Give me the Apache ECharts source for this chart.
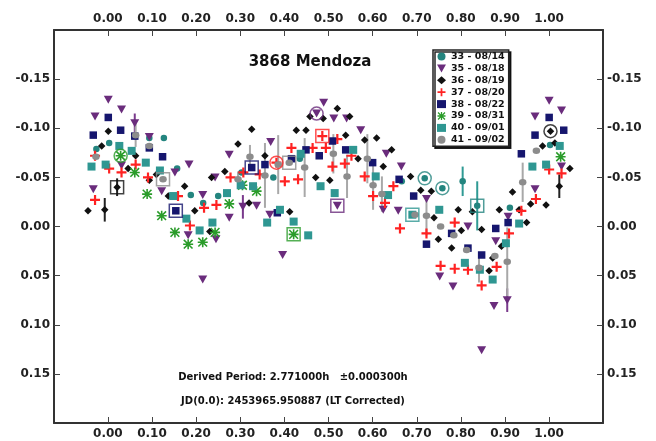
<!DOCTYPE html>
<html><head><meta charset="utf-8">
<script src="https://cdn.jsdelivr.net/npm/echarts@6/dist/echarts.min.js"></script>
<style>html,body{margin:0;padding:0;background:#fff}#c{width:656px;height:441px}</style>
</head><body><div id="c"></div>
<script>
// ---------------- data ----------------
const titleText = '3868 Mendoza';
const periodText = 'Derived Period: 2.771000h   \u00b10.000300h';
const jdText = 'JD(0.0): 2453965.950887 (LT Corrected)';
const sessionNames = ['33 - 08/14','35 - 08/18','36 - 08/19','37 - 08/20','38 - 08/22','39 - 08/31','40 - 09/01','41 - 09/02'];
const xTicks = [0,0.1,0.2,0.3,0.4,0.5,0.6,0.7,0.8,0.9,1.0];
const yTicks = [-0.15,-0.10,-0.05,0,0.05,0.10,0.15];

// [phase, mag, optional error]
const s33 = [[-0.026,-0.079],[0.003,-0.085],[0.094,-0.090],[0.127,-0.090],[0.157,-0.059],[0.188,-0.032],[0.216,-0.024],[0.250,-0.031],[0.303,-0.055],[0.375,-0.050],[0.435,-0.069],[0.666,-0.046],[0.718,-0.049],[0.758,-0.039],[0.804,-0.046,0.015],[0.837,-0.021,0.025],[0.911,-0.019],[1.002,-0.083]];
const s35 = [[0.001,-0.129],[-0.029,-0.112],[0.031,-0.119],[0.061,-0.105,0.01],[0.094,-0.091],[-0.033,-0.038],[0.031,-0.062],[0.122,-0.036],[0.184,-0.063],[0.152,-0.055],[0.215,-0.032],[0.182,0.009],[0.245,0.013],[0.215,0.054],[0.275,-0.073],[0.275,-0.009],[0.306,-0.020,0.012],[0.243,-0.050],[0.337,-0.021],[0.367,-0.012],[0.396,0.029],[0.369,-0.086],[0.489,-0.126],[0.473,-0.115],[0.512,-0.110],[0.541,-0.110],[0.573,-0.098],[0.631,-0.074],[0.665,-0.061],[0.520,-0.021],[0.624,-0.017],[0.658,-0.016],[0.722,-0.028],[0.752,0.051],[0.782,0.061],[0.816,0.000],[0.847,0.126],[0.875,0.081],[0.879,0.015],[0.905,0.075,0.012],[0.907,-0.010],[0.968,-0.038],[0.968,-0.112],[1.000,-0.128],[1.028,-0.118],[1.028,-0.061]];
const s36 = [[-0.045,-0.016],[-0.007,-0.017,0.012],[-0.014,-0.082],[0.001,-0.097],[0.021,-0.040,0.009],[0.063,-0.072],[0.046,-0.059],[0.094,-0.047],[0.110,-0.053],[0.174,-0.041],[0.137,-0.031],[0.197,-0.016],[0.231,0.005],[0.235,-0.050],[0.265,-0.056],[0.295,-0.084],[0.326,-0.099],[0.320,-0.024],[0.427,-0.098],[0.449,-0.098],[0.458,-0.112],[0.520,-0.120],[0.548,-0.112],[0.488,-0.110],[0.539,-0.093],[0.582,-0.088],[0.609,-0.090],[0.643,-0.078],[0.356,-0.072],[0.567,-0.069],[0.624,-0.061],[0.471,-0.050],[0.503,-0.047],[0.412,-0.015],[0.686,-0.051],[0.709,-0.037],[0.733,-0.036],[0.739,-0.009],[0.794,-0.017],[0.826,-0.015],[0.801,0.004],[0.779,0.022],[0.847,0.003],[0.864,0.045],[0.887,-0.017],[0.892,0.020],[0.917,-0.035],[0.932,-0.017],[0.949,-0.004],[0.958,-0.023],[0.993,-0.022],[1.023,-0.041,0.012],[1.047,-0.059],[0.985,-0.082],[1.013,-0.085],[1.003,-0.097],[0.749,0.013],[0.872,0.032]];
const s37 = [[-0.029,-0.072],[-0.029,-0.027],[0.003,-0.059],[0.031,-0.055],[0.063,-0.063],[0.091,-0.050],[0.186,-0.001],[0.218,-0.019],[0.246,-0.022],[0.278,-0.050],[0.307,-0.055],[0.159,-0.031],[0.344,-0.053],[0.382,-0.065],[0.401,-0.046],[0.431,-0.048],[0.416,-0.080],[0.464,-0.080],[0.486,-0.092],[0.494,-0.080],[0.520,-0.089],[0.509,-0.061],[0.537,-0.064],[0.552,-0.072],[0.582,-0.051],[0.601,-0.031],[0.628,-0.024],[0.647,-0.041],[0.662,0.002],[0.722,0.007],[0.786,-0.004],[0.754,0.040],[0.786,0.043],[0.816,0.044],[0.847,0.060],[0.881,0.041],[0.909,0.007],[0.937,-0.016],[0.970,-0.028],[1.000,-0.058],[1.028,-0.054]];
const s38 = [[-0.033,-0.093],[0.001,-0.111],[0.029,-0.098],[0.061,-0.092],[0.094,-0.080],[0.124,-0.071],[0.154,-0.016],[0.326,-0.060],[0.356,-0.063],[0.416,-0.069],[0.384,-0.014],[0.449,-0.078],[0.479,-0.072],[0.509,-0.087],[0.539,-0.078],[0.600,-0.065],[0.660,-0.048],[0.693,-0.031],[0.722,0.018],[0.779,0.007],[0.816,0.022],[0.847,0.029],[0.879,0.002],[0.907,-0.004],[0.937,-0.074],[0.968,-0.093],[1.000,-0.111],[1.033,-0.098]];
const s39 = [[0.029,-0.072],[0.061,-0.055],[0.089,-0.033],[0.122,-0.011],[0.152,0.006],[0.182,0.018],[0.215,0.016],[0.243,0.006],[0.275,-0.023],[0.305,-0.042],[0.337,-0.036],[0.421,0.008],[1.026,-0.071]];
const s40 = [[-0.037,-0.061],[-0.005,-0.063],[0.026,-0.082],[0.054,-0.077],[0.086,-0.065],[0.118,-0.057],[0.148,-0.031],[0.178,-0.008],[0.208,0.004],[0.237,-0.004],[0.270,-0.034],[0.301,-0.042],[0.329,-0.041],[0.361,-0.004],[0.390,-0.017],[0.421,-0.005],[0.454,0.009],[0.437,-0.074],[0.482,-0.041],[0.514,-0.034],[0.556,-0.078],[0.607,-0.051],[0.635,-0.032],[0.690,-0.012],[0.751,-0.017],[0.809,0.037],[0.843,0.044],[0.872,0.054],[0.902,0.017],[0.932,-0.003],[0.962,-0.061],[0.993,-0.063],[1.024,-0.082]];
const s41 = [[-0.027,-0.071],[0.063,-0.093,0.012],[0.094,-0.082],[0.125,-0.048],[0.295,-0.048,0.008],[0.322,-0.071,0.012],[0.356,-0.052,0.033],[0.386,-0.063,0.03],[0.411,-0.065],[0.446,-0.060,0.03],[0.511,-0.074,0.02],[0.542,-0.051,0.022],[0.588,-0.069,0.025],[0.601,-0.042,0.025],[0.621,-0.033,0.018],[0.696,-0.012],[0.722,-0.011,0.02],[0.754,0.000],[0.784,0.009],[0.813,0.024],[0.841,0.042,0.015],[0.877,0.030],[0.905,0.036,0.035],[0.940,-0.045,0.02],[0.971,-0.077]];
const sessionData = [s33,s35,s36,s37,s38,s39,s40,s41];

// first-point markers: [phase, mag, session index]
const boxMarks = [[0.021,-0.040,2],[0.154,-0.016,4],[0.125,-0.048,7],[0.411,-0.065,7],[0.421,0.008,5],[0.486,-0.092,3],[0.520,-0.021,1],[0.690,-0.012,6],[0.837,-0.021,0],[0.326,-0.060,4]];
const ringMarks = [[0.029,-0.072,5],[0.382,-0.065,3],[0.473,-0.115,1],[0.718,-0.049,0],[0.758,-0.039,0],[1.003,-0.097,2]];

// ---------------- styles ----------------
const FONT = 'DejaVu Sans';
const PLUS = 'path://M3.9,0h2.2v3.9h3.9v2.2h-3.9v3.9h-2.2v-3.9h-3.9v-2.2h3.9z';
const STAR = 'path://M4.2,0h1.6v10h-1.6z M0,4.2h10v1.6h-10z M1.2,0.1L9.9,8.8L8.8,9.9L0.1,1.2z M8.8,0.1L9.9,1.2L1.2,9.9L0.1,8.8z';
const DOWN = 'path://M0,0L10,0L5,9z';
const styles = [
  {symbol:'circle', size:6.5, color:'#24857f', err:'#2f9a94'},
  {symbol:DOWN, size:[9,8], color:'#6a2c7c', err:'#7a3a8c'},
  {symbol:'diamond', size:7.5, color:'#111111', err:'#222222'},
  {symbol:PLUS, size:10, color:'#ff2222', err:'#aaaaaa'},
  {symbol:'rect', size:7.5, color:'#16166e', err:'#aaaaaa'},
  {symbol:STAR, size:10, color:'#2a9c2a', err:'#aaaaaa'},
  {symbol:'rect', size:8, color:'#2f9792', err:'#aaaaaa'},
  {symbol:'circle', size:[7.5,6.5], color:'#8c8c8c', err:'#a8a8a8'}
];

const chart = echarts.init(document.getElementById('c'), null, {renderer:'canvas'});

function errSeries(data, color){
  return {
    type:'custom', xAxisIndex:0, yAxisIndex:0, silent:true, z:1,
    data: data.filter(d => d.length > 2),
    encode:{x:0, y:1},
    renderItem:(params, api) => {
      const x = api.value(0), y = api.value(1), e = api.value(2);
      const p1 = api.coord([x, y - e]), p2 = api.coord([x, y + e]);
      return {type:'line', shape:{x1:p1[0], y1:p1[1], x2:p2[0], y2:p2[1]}, style:{stroke:color, lineWidth:2}};
    }
  };
}

const series = [];
sessionData.forEach((d, i) => series.push(errSeries(d, styles[i].err)));
sessionData.forEach((d, i) => {
  const st = styles[i];
  series.push({
    name: sessionNames[i], type:'scatter', xAxisIndex:0, yAxisIndex:0, z:2,
    symbol: st.symbol, symbolSize: st.size,
    itemStyle:{color: st.color, opacity:1},
    data: d.map(p => [p[0], p[1]]),
    emphasis:{disabled:true}, silent:true
  });
});
series.push({
  type:'scatter', z:3, symbol:'rect', symbolSize:13, silent:true,
  itemStyle:{color:'rgba(0,0,0,0)', borderWidth:1.5},
  data: boxMarks.map(m => ({value:[m[0], m[1]], itemStyle:{borderColor: styles[m[2]].color}}))
});
series.push({
  type:'scatter', z:3, symbol:'circle', symbolSize:13, silent:true,
  itemStyle:{color:'rgba(0,0,0,0)', borderWidth:1.5},
  data: ringMarks.map(m => ({value:[m[0], m[1]], itemStyle:{borderColor: styles[m[2]].color}}))
});

const lbl = {fontFamily:FONT, fontWeight:'bold', fontSize:12, color:'#222'};
function xAx(pos){
  return {
    type:'value', position:pos, min:-0.122, max:1.122,
    axisLine:{show:true, onZero:false, lineStyle:{color:'#333', width:2}},
    axisTick:{show:true, inside:true, length:6, customValues:xTicks, lineStyle:{color:'#444', width:1}},
    axisLabel:Object.assign({customValues:xTicks, margin:5, formatter:v => v.toFixed(2)}, lbl),
    splitLine:{show:false}
  };
}
function yAx(pos){
  return {
    type:'value', position:pos, inverse:true, min:-0.2, max:0.2,
    axisLine:{show:true, onZero:false, lineStyle:{color:'#333', width:2}},
    axisTick:{show:true, inside:true, length:6, customValues:yTicks, lineStyle:{color:'#444', width:1}},
    axisLabel:Object.assign({customValues:yTicks, margin:4, formatter:v => (Math.abs(v) < 1e-9 ? 0 : v).toFixed(2)}, lbl),
    splitLine:{show:false}
  };
}

const txtStyle = {fontFamily:FONT, fontWeight:'bold', fontSize:10, fill:'#111', textAlign:'center', textVerticalAlign:'middle'};
chart.setOption({
  animation:false,
  backgroundColor:'#fff',
  grid:{left:54, right:53, top:30, bottom:18, containLabel:false},
  title:{text:titleText, left:305, top:50, textAlign:'center',
    textStyle:{fontFamily:FONT, fontWeight:'bold', fontSize:15, color:'#111'}},
  legend:{
    orient:'vertical', left:433, top:50, data:sessionNames,
    itemWidth:9, itemHeight:8, itemGap:0.9, padding:[1,4,1,4],
    borderColor:'#222', borderWidth:1.5, backgroundColor:'#fff',
    shadowColor:'rgba(0,0,0,0.85)', shadowOffsetX:2, shadowOffsetY:2, shadowBlur:0,
    selectedMode:false,
    textStyle:{fontFamily:FONT, fontWeight:'bold', fontSize:9.5, color:'#111', lineHeight:11}
  },
  xAxis:[xAx('bottom'), xAx('top')],
  yAxis:[yAx('left'), yAx('right')],
  graphic:[
    {type:'text', x:293, y:377, style:Object.assign({text:periodText}, txtStyle)},
    {type:'text', x:293, y:401, style:Object.assign({text:jdText}, txtStyle)}
  ],
  series:series
});
</script></body></html>
